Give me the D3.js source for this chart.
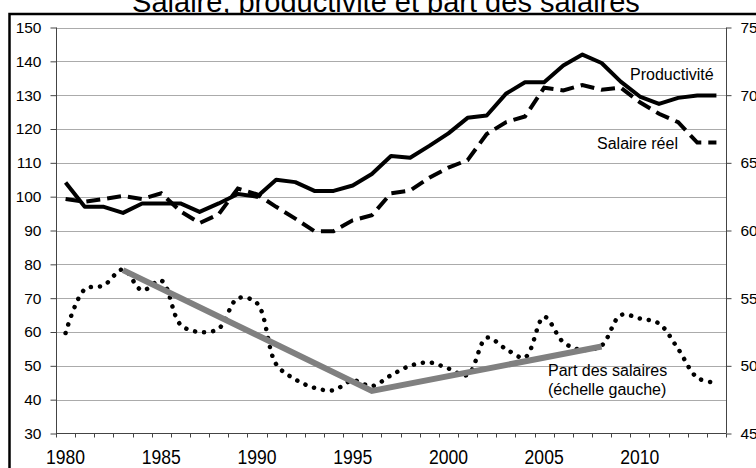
<!DOCTYPE html>
<html>
<head>
<meta charset="utf-8">
<script src="https://cdn.jsdelivr.net/npm/d3@7"></script>
<style>
  html, body { margin: 0; padding: 0; background: #fff; }
  svg { display: block; font-family: "Liberation Sans", Arial, sans-serif; }
</style>
</head>
<body>
<div id="chart"></div>
<script>
// Salaire, productivité et part des salaires (1980 = 100)

const years = [1980, 1981, 1982, 1983, 1984, 1985, 1986, 1987, 1988, 1989,
    1990, 1991, 1992, 1993, 1994, 1995, 1996, 1997, 1998, 1999,
    2000, 2001, 2002, 2003, 2004, 2005, 2006, 2007, 2008, 2009,
    2010, 2011, 2012, 2013, 2014];

const productivite = [104.2, 97, 97, 95.2, 98, 98, 98, 95.5, 98, 100.8,
    100, 105, 104.3, 101.7, 101.7, 103.3, 106.7, 112, 111.5, 115,
    118.7, 123.3, 124, 130.4, 133.8, 133.8, 138.8, 142, 139.5, 134,
    129.6, 127.4, 129.2, 129.9, 129.9];

const salaireReel = [99.3, 98.5, 99.3, 100.2, 99.3, 101, 95.7, 92.2, 94.8, 102.4,
    100.7, 97, 93.5, 89.8, 89.8, 93, 94.5, 101, 101.8, 105.6,
    108.6, 110.8, 118.5, 122, 123.7, 132.2, 131.4, 133, 131.6, 132.2,
    127.9, 124.5, 122, 116, 116];

// part des salaires, read on the left scale
const partSalaires = [59.7, 72.6, 73.8, 78.5, 72.3, 75.2, 62.2, 60, 61, 70,
    68.5, 50.5, 46, 43.5, 42.8, 45.7, 44, 47.2, 50, 51,
    49.2, 47.3, 58.3, 55, 52.5, 64.5, 57, 54.7, 56, 65,
    64, 62.5, 55, 46.5, 45];

// trend segments over the wage share
const trendYears = [1983, 1996, 2008];
const trendValues = [78.3, 42.6, 55.7];

const leftTicks = [30, 40, 50, 60, 70, 80, 90, 100, 110, 120, 130, 140, 150];
const rightTicks = [45, 50, 55, 60, 65, 70, 75];
const yearLabels = [1980, 1985, 1990, 1995, 2000, 2005, 2010];

const width = 756, height = 468;
const plot = { left: 56, right: 726, top: 27.5, bottom: 433.5 };

const svg = d3.select('#chart').append('svg')
    .attr('width', width)
    .attr('height', height);

// Title (drawn first, the chart panel covers its descenders)
svg.append('text')
    .attr('x', 386)
    .attr('y', 12)
    .attr('text-anchor', 'middle')
    .attr('font-size', '29px')
    .attr('fill', '#000')
    .text('Salaire, productivité et part des salaires');

// Chart panel with frame running off the right and bottom edges
svg.append('rect')
    .attr('x', 9.5).attr('y', 14)
    .attr('width', 800).attr('height', 500)
    .attr('fill', '#fff')
    .attr('stroke', '#000')
    .attr('stroke-width', 2.5);

const x = d3.scaleBand().domain(years).range([plot.left, plot.right]);
const cx = d => x(d) + x.bandwidth() / 2;
const y = d3.scaleLinear().domain([30, 150]).range([plot.bottom, plot.top]);
const yRight = d3.scaleLinear().domain([45, 75]).range([plot.bottom, plot.top]);

// Gridlines
svg.append('g')
    .selectAll('line')
    .data(leftTicks.filter(t => t > 30))
    .join('line')
    .attr('x1', plot.left).attr('x2', plot.right)
    .attr('y1', d => Math.round(y(d)) + 0.5)
    .attr('y2', d => Math.round(y(d)) + 0.5)
    .attr('stroke', '#ababab')
    .attr('stroke-width', 1);

// Left axis
const leftAxis = svg.append('g')
    .attr('transform', `translate(${plot.left + 0.5},0)`)
    .call(d3.axisLeft(y).tickValues(leftTicks).tickSize(6).tickPadding(9).tickFormat(d3.format('d')));
leftAxis.select('.domain').attr('stroke', '#444').attr('d', `M0,${plot.top}V${plot.bottom}`);
leftAxis.selectAll('.tick line').attr('stroke', '#444');
leftAxis.selectAll('.tick text')
    .attr('font-size', '15.5px')
    .attr('font-family', '"Liberation Sans", Arial, sans-serif')
    .attr('fill', '#000');

// Right axis
const rightAxis = svg.append('g')
    .attr('transform', `translate(${plot.right + 0.5},0)`)
    .call(d3.axisRight(yRight).tickValues(rightTicks).tickSize(5).tickPadding(9).tickFormat(d3.format('d')));
rightAxis.select('.domain').attr('stroke', '#444').attr('d', `M0,${plot.top}V${plot.bottom}`);
rightAxis.selectAll('.tick line').attr('stroke', '#444');
rightAxis.selectAll('.tick text')
    .attr('font-size', '15.5px')
    .attr('font-family', '"Liberation Sans", Arial, sans-serif')
    .attr('fill', '#000');

// Bottom axis: ticks between categories, labels at category centres
const bottom = svg.append('g');
bottom.append('line')
    .attr('x1', plot.left).attr('x2', plot.right)
    .attr('y1', plot.bottom).attr('y2', plot.bottom)
    .attr('stroke', '#444');
bottom.selectAll('line.tk')
    .data(years.concat([null]))
    .join('line')
    .attr('class', 'tk')
    .attr('x1', d => Math.round(d === null ? plot.right : x(d)) + 0.5)
    .attr('x2', d => Math.round(d === null ? plot.right : x(d)) + 0.5)
    .attr('y1', plot.bottom)
    .attr('y2', plot.bottom + 4)
    .attr('stroke', '#444');
bottom.selectAll('text')
    .data(yearLabels)
    .join('text')
    .attr('transform', d => `translate(${cx(d)},464) scale(0.95,1.06)`)
    .attr('text-anchor', 'middle')
    .attr('font-size', '18.5px')
    .attr('fill', '#000')
    .text(d => d);

// Wage share: smoothed dotted line
const smooth = d3.line()
    .x((d, i) => cx(years[i]))
    .y(d => y(d))
    .curve(d3.curveCatmullRom.alpha(0.5));

svg.append('path')
    .datum(partSalaires)
    .attr('d', smooth)
    .attr('fill', 'none')
    .attr('stroke', '#000')
    .attr('stroke-width', 4.5)
    .attr('stroke-linecap', 'round')
    .attr('stroke-dasharray', '0.1,9');

// Trend segments
svg.append('path')
    .datum(trendValues)
    .attr('d', d3.line().x((d, i) => cx(trendYears[i])).y(d => y(d)))
    .attr('fill', 'none')
    .attr('stroke', '#808080')
    .attr('stroke-width', 6);

const straight = d3.line()
    .x((d, i) => cx(years[i]))
    .y(d => y(d));

// Salaire réel: dashed
svg.append('path')
    .datum(salaireReel)
    .attr('d', straight)
    .attr('fill', 'none')
    .attr('stroke', '#000')
    .attr('stroke-width', 4)
    .attr('stroke-dasharray', '14,7');

// Productivité: solid
svg.append('path')
    .datum(productivite)
    .attr('d', straight)
    .attr('fill', 'none')
    .attr('stroke', '#000')
    .attr('stroke-width', 4)
    .attr('stroke-linejoin', 'round');

// Series labels
const labels = [
    { text: 'Productivité', x: 630, y: 80 },
    { text: 'Salaire réel', x: 597, y: 149 },
    { text: 'Part des salaires', x: 548, y: 376 },
    { text: '(échelle gauche)', x: 548, y: 395 }
];
svg.append('g')
    .selectAll('text')
    .data(labels)
    .join('text')
    .attr('x', d => d.x)
    .attr('y', d => d.y)
    .attr('font-size', '16px')
    .attr('fill', '#000')
    .text(d => d.text);
</script>
</body>
</html>
